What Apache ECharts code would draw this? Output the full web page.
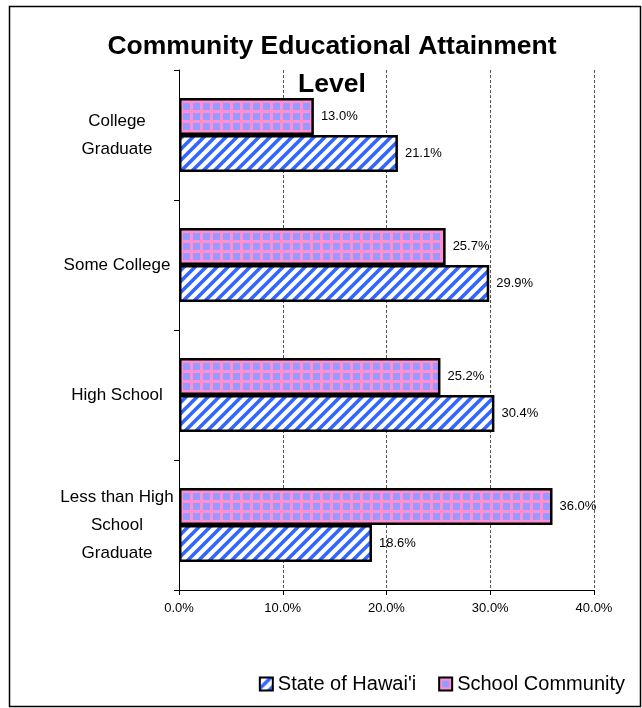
<!DOCTYPE html>
<html>
<head>
<meta charset="utf-8">
<script src="https://cdn.jsdelivr.net/npm/echarts@6/dist/echarts.min.js"></script>
<style>
html,body{margin:0;padding:0;background:#fff;}
#chart{width:642px;height:708px;}
</style>
</head>
<body>
<div id="chart"></div>
<script>
const categories = ['Less than High\nSchool\nGraduate', 'High School', 'Some College', 'College\nGraduate'];
const stateValues = [18.6, 30.4, 29.9, 21.1];
const schoolValues = [36.0, 25.2, 25.7, 13.0];
const seriesNames = ["State of Hawai'i", 'School Community'];
const titleText = 'Community Educational Attainment\nLevel';

function stripePattern() {
  const s = 11;
  const c = document.createElement('canvas');
  c.width = s; c.height = s;
  const g = c.getContext('2d');
  g.fillStyle = '#ffffff';
  g.fillRect(0, 0, s, s);
  g.strokeStyle = '#3366ff';
  g.lineWidth = 3.6;
  g.beginPath();
  g.moveTo(-2, s + 2); g.lineTo(s + 2, -2);
  g.moveTo(-2, 2); g.lineTo(2, -2);
  g.moveTo(s - 2, s + 2); g.lineTo(s + 2, s - 2);
  g.stroke();
  return c;
}
function gridPattern() {
  const s = 10;
  const c = document.createElement('canvas');
  c.width = s; c.height = s;
  const g = c.getContext('2d');
  g.fillStyle = '#9999ff';
  g.fillRect(0, 0, s, s);
  g.fillStyle = '#ff8fcf';
  g.fillRect(0, 0, s, 3);
  g.fillRect(0, 0, 3, s);
  return c;
}

const FONT = 'Liberation Sans, Arial, sans-serif';
const chart = echarts.init(document.getElementById('chart'), null, {renderer: 'canvas'});
const labelOpt = {
  show: true, position: 'right', distance: 7,
  fontFamily: FONT, fontSize: 13, color: '#000',
  formatter: p => p.value.toFixed(1) + '%'
};
chart.setOption({
  animation: false,
  backgroundColor: '#fff',
  title: {
    text: titleText, left: 327, textAlign: 'center', top: 23,
    textStyle: {fontFamily: FONT, fontWeight: 'bold', fontSize: 26.5, lineHeight: 38, color: '#000'}
  },
  graphic: [{
    type: 'rect', shape: {x: 9.5, y: 6.5, width: 631, height: 700},
    style: {fill: null, stroke: '#000', lineWidth: 1.5}, z: -1
  }],
  legend: {
    data: seriesNames, right: 12, top: 669, icon: 'rect', itemWidth: 13, itemHeight: 13, itemGap: 22,
    textStyle: {fontFamily: FONT, fontSize: 20, color: '#000'}
  },
  grid: {left: 179, right: 48, top: 70, bottom: 118},
  xAxis: {
    type: 'value', min: 0, max: 40, interval: 10,
    axisLine: {show: true, lineStyle: {color: '#000', width: 1}},
    axisTick: {show: true, length: 5, lineStyle: {color: '#000'}},
    axisLabel: {formatter: v => v.toFixed(1) + '%', fontFamily: FONT, fontSize: 13, color: '#000', margin: 12},
    splitLine: {show: true, lineStyle: {color: '#555', type: [3, 2], width: 1}}
  },
  yAxis: {
    type: 'category', data: categories,
    axisLine: {show: true, lineStyle: {color: '#000', width: 1}},
    axisTick: {show: true, length: 5, lineStyle: {color: '#000'}},
    axisLabel: {fontFamily: FONT, fontSize: 17, color: '#000', align: 'center', margin: 62, lineHeight: 28}
  },
  series: [
    {
      name: seriesNames[1], type: 'bar', data: schoolValues, barWidth: 37, barGap: '0%',
      itemStyle: {color: {image: gridPattern(), repeat: 'repeat'}, borderColor: '#000', borderWidth: 2.5},
      label: labelOpt
    },
    {
      name: seriesNames[0], type: 'bar', data: stateValues, barWidth: 37, barGap: '0%',
      itemStyle: {color: {image: stripePattern(), repeat: 'repeat'}, borderColor: '#000', borderWidth: 2.5},
      label: labelOpt
    }
  ]
});
</script>
</body>
</html>
